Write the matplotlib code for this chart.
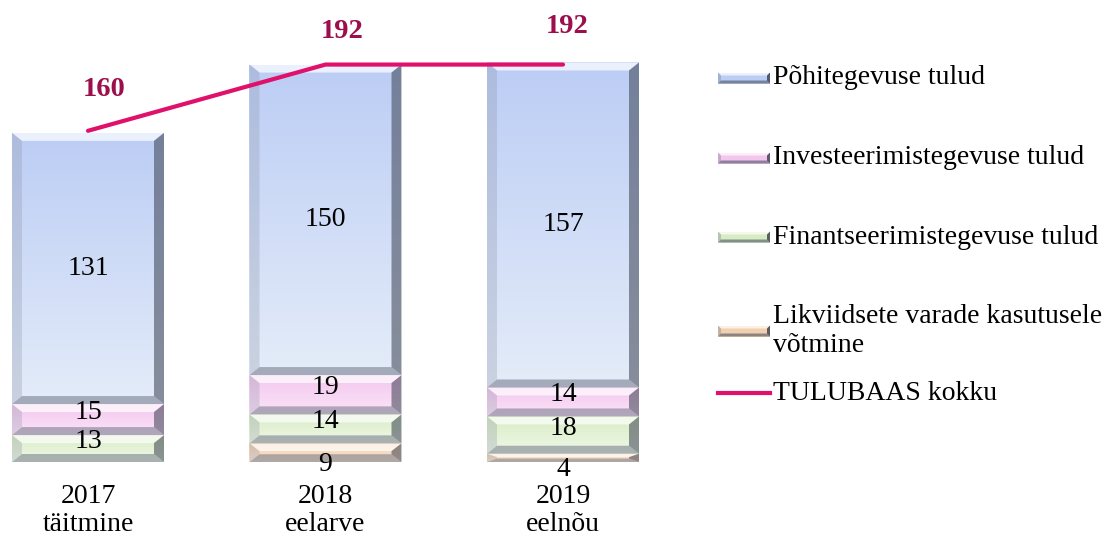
import matplotlib
matplotlib.use("Agg")
import matplotlib.pyplot as plt
import numpy as np
from matplotlib.patches import Polygon, Rectangle
from matplotlib.colors import to_rgb

# ---------------- data ----------------
categories = ["2017\ntäitmine", "2018\neelarve", "2019\neelnõu"]
series_names = ["Põhitegevuse tulud", "Investeerimistegevuse tulud",
                "Finantseerimistegevuse tulud",
                "Likviidsete varade kasutusele\nvõtmine"]
likviid = [0, 9, 4]
finants = [13, 14, 18]
invest = [15, 19, 14]
pohi = [131, 150, 157]
total = [160, 192, 192]
total_name = "TULUBAAS kokku"

# ---------------- style ----------------
FONT = "Liberation Serif"
FS = 20
W, H = 1106, 538
fig = plt.figure(figsize=(W / 100, H / 100), dpi=100)

# face colours (top, bottom) per series in stacking order bottom->top
stack_vals = [likviid, finants, invest, pohi]
stack_cols = [("#f2cfae", "#fae6d4"),   # likviid (orange)
              ("#d8ecc4", "#f0f8e8"),   # finants (green)
              ("#f3c6ee", "#fbe4f8"),   # invest (pink)
              ("#bccdf5", "#e4ecf9")]   # pohi (blue)
legend_order = [3, 2, 1, 0]  # pohi, invest, finants, likviid

bottom_px = 462
ax = fig.add_axes([0, (H - bottom_px) / H, 660 / W, bottom_px / H])
px_per_x = 237.5
px_per_y = 2.07
x = np.arange(len(categories))
xlim = (-88 / px_per_x, (660 - 88) / px_per_x)
ylim = (0, bottom_px / px_per_y)
bar_w = 152 / px_per_x


def grad_img(ctop, cbot, n=64):
    t = np.linspace(0, 1, n)[:, None]   # 0 bottom -> 1 top
    a = np.array(to_rgb(cbot))
    b = np.array(to_rgb(ctop))
    img = a[None, :] * (1 - t) + b[None, :] * t
    return img[:, None, :]


def bevel(axis, x0, y0, w, h, bxu, byu, zorder=3):
    x1, y1 = x0 + w, y0 + h
    by = min(byu, h / 2.4)
    bx = bxu
    polys = [
        ([(x0, y1), (x1, y1), (x1 - bx, y1 - by), (x0 + bx, y1 - by)], "#ffffff", 0.7),
        ([(x0, y0), (x1, y0), (x1 - bx, y0 + by), (x0 + bx, y0 + by)], "#555d70", 0.45),
        ([(x0, y0), (x0, y1), (x0 + bx, y1 - by), (x0 + bx, y0 + by)], "#8890a4", 0.28),
        ([(x1, y0), (x1, y1), (x1 - bx, y1 - by), (x1 - bx, y0 + by)], "#394050", 0.55),
    ]
    for pts, c, a in polys:
        axis.add_patch(Polygon(pts, closed=True, facecolor=c, edgecolor="none",
                               alpha=a, zorder=zorder))


bottoms = np.zeros(len(categories))
bxu = 10 / px_per_x
byu = 8 / px_per_y
for vals, (ctop, cbot) in zip(stack_vals, stack_cols):
    vals = np.array(vals, dtype=float)
    bars = ax.bar(x, vals, width=bar_w, bottom=bottoms, color=ctop,
                  edgecolor="none", zorder=2)
    for p, v in zip(bars.patches, vals):
        if v <= 0:
            continue
        x0, y0, w, h = p.get_x(), p.get_y(), p.get_width(), p.get_height()
        im = ax.imshow(grad_img(ctop, cbot), extent=(x0, x0 + w, y0, y0 + h),
                       aspect="auto", origin="lower", zorder=2.5,
                       interpolation="bicubic")
        im.set_clip_path(p)
        bevel(ax, x0, y0, w, h, bxu, byu)
        # value label
        cy = y0 + h / 2
        if v < 10:
            off = -12
        elif v < 100:
            off = 7
        else:
            off = 0
        ax.annotate(f"{int(v)}", (p.get_x() + w / 2, cy), xytext=(0, off),
                    textcoords="offset pixels", ha="center", va="center",
                    fontsize=FS, family=FONT, color="black", zorder=6)
    bottoms += vals

# total line
ax.plot(x, total, color="#e0116b", lw=3.0, solid_capstyle="round", zorder=5)
label_offsets = [(16, 41), (17, 33), (4, 38)]
for xi, t, off in zip(x, total, label_offsets):
    ax.annotate(f"{t}", (xi, t), xytext=off, textcoords="offset pixels",
                ha="center", va="center", fontsize=FS + 0.5, fontweight="bold",
                family=FONT, color="#9c0f4c", zorder=6)

ax.set_xlim(*xlim)
ax.set_ylim(*ylim)
ax.set_xticks(x)
ax.set_xticklabels(categories, fontsize=FS, family=FONT, linespacing=1.15)
ax.tick_params(axis="x", length=0, pad=16)
ax.set_yticks([])
for s in ax.spines.values():
    s.set_visible(False)
ax.patch.set_alpha(0)

# ---------------- legend (manual) ----------------
lax = fig.add_axes([0, 0, 1, 1], zorder=10)
lax.set_xlim(0, W)
lax.set_ylim(H, 0)
lax.axis("off")
ys = [78, 158, 237, 331]
for yc, si, name in zip(ys, legend_order, series_names):
    ctop, cbot = stack_cols[si]
    hx0, hw, hh = 718, 52, 11
    lax.add_patch(Rectangle((hx0, yc - hh / 2), hw, hh, facecolor=ctop, edgecolor="none"))
    x0, x1, yt, yb = hx0, hx0 + hw, yc - hh / 2, yc + hh / 2
    b = 3
    for pts, c, a in [
        ([(x0, yt), (x1, yt), (x1 - b, yt + b), (x0 + b, yt + b)], "#ffffff", 0.7),
        ([(x0, yb), (x1, yb), (x1 - b, yb - b), (x0 + b, yb - b)], "#4a5264", 0.6),
        ([(x1, yt), (x1, yb), (x1 - b, yb - b), (x1 - b, yt + b)], "#2e3442", 0.75),
        ([(x0, yt), (x0, yb), (x0 + b, yb - b), (x0 + b, yt + b)], "#7d8598", 0.4),
    ]:
        lax.add_patch(Polygon(pts, closed=True, facecolor=c, edgecolor="none", alpha=a))
    lax.text(773, yc, name, ha="left", va="center", fontsize=FS, family=FONT,
             linespacing=1.25)
lax.plot([718, 770], [393, 393], color="#e0116b", lw=3.0)
lax.text(773, 393, total_name, ha="left", va="center", fontsize=FS, family=FONT)

fig.savefig("out.png", dpi=100)
